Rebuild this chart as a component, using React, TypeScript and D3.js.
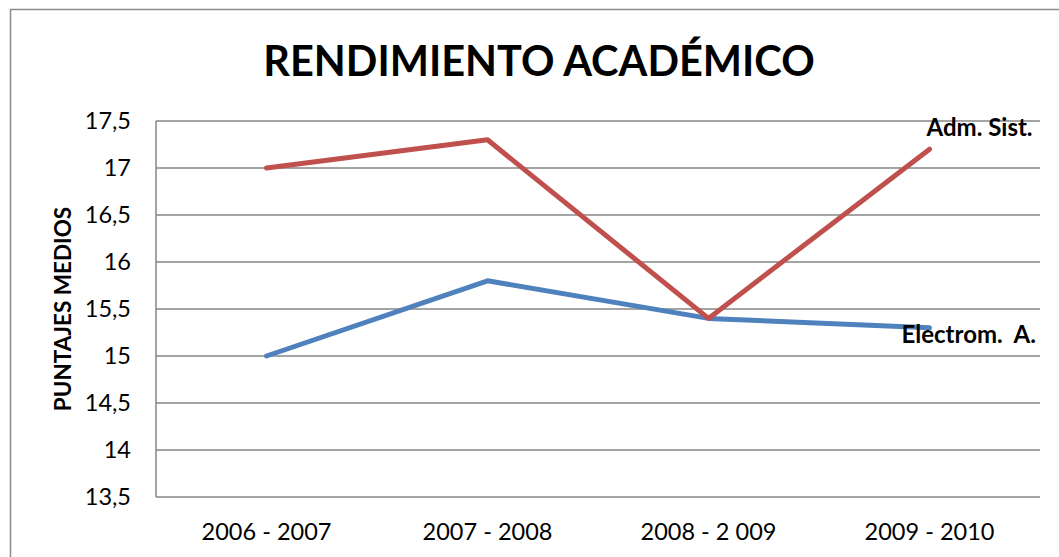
import * as React from 'react';
import * as d3 from 'd3';

const categories = ['2006 - 2007', '2007 - 2008', '2008 - 2 009', '2009 - 2010'];
const admSist = [17, 17.3, 15.4, 17.2];
const electrom = [15, 15.8, 15.4, 15.3];
const yTicks = [13.5, 14, 14.5, 15, 15.5, 16, 16.5, 17, 17.5];

const W = 1059;
const H = 557;
const plot = { left: 156, right: 1040, top: 121, bottom: 497 };
const font = 'Lato, "Open Sans", sans-serif';

const fmt = (v: number): string => String(v).replace('.', ',');

const App: React.FC = () => {
  const x = d3
    .scaleBand<string>()
    .domain(categories)
    .range([plot.left, plot.right]);
  const y = d3.scaleLinear().domain([13.5, 17.5]).range([plot.bottom, plot.top]);

  const line = d3
    .line<number>()
    .x((_, i) => (x(categories[i]) as number) + x.bandwidth() / 2)
    .y((d) => y(d));

  const lastX = (x(categories[3]) as number) + x.bandwidth() / 2;

  return (
    <svg
      width={W}
      height={H}
      style={{ position: 'absolute', left: 0, top: 0, background: '#fff' }}
    >
      {/* outer frame */}
      <rect x={10.5} y={9.5} width={W + 20} height={H + 20} fill="#fff" stroke="#8c8c8c" strokeWidth={1.5} />

      <text
        x={539}
        y={76}
        textAnchor="middle"
        fontFamily={font}
        fontWeight="bold"
        fontSize={41.5}
        fill="#000"
      >
        RENDIMIENTO ACADÉMICO
      </text>

      {/* gridlines */}
      {yTicks.map((t) => (
        <line
          key={t}
          x1={plot.left}
          x2={plot.right}
          y1={y(t)}
          y2={y(t)}
          stroke="#868686"
          strokeWidth={1.5}
        />
      ))}
      <line x1={plot.left} x2={plot.left} y1={plot.top} y2={plot.bottom} stroke="#868686" strokeWidth={1.5} />

      {yTicks.map((t) => (
        <text
          key={t}
          x={131}
          y={y(t)}
          dy="0.36em"
          textAnchor="end"
          fontFamily={font}
          fontSize={23.5}
          fill="#000"
        >
          {fmt(t)}
        </text>
      ))}

      {categories.map((c) => (
        <text
          key={c}
          x={(x(c) as number) + x.bandwidth() / 2}
          y={540}
          textAnchor="middle"
          fontFamily={font}
          fontSize={23.5}
          fill="#000"
        >
          {c}
        </text>
      ))}

      <text
        transform={`translate(71, ${(plot.top + plot.bottom) / 2}) rotate(-90)`}
        textAnchor="middle"
        fontFamily={font}
        fontWeight="bold"
        fontSize={22.5}
        fill="#000"
      >
        PUNTAJES MEDIOS
      </text>

      <path d={line(electrom) || ''} fill="none" stroke="#4F81BD" strokeWidth={5} strokeLinecap="round" strokeLinejoin="round" />
      <path d={line(admSist) || ''} fill="none" stroke="#C0504D" strokeWidth={5} strokeLinecap="round" strokeLinejoin="round" />

      <text
        x={lastX - 3}
        y={y(admSist[3]) - 13}
        fontFamily={font}
        fontWeight="bold"
        fontSize={24}
        fill="#000"
      >
        Adm. Sist.
      </text>
      <text
        x={lastX - 28}
        y={y(electrom[3]) + 15}
        fontFamily={font}
        fontWeight="bold"
        fontSize={24}
        fill="#000"
        style={{ whiteSpace: 'pre' }}
      >
        {'Electrom.  A.'}
      </text>
    </svg>
  );
};

export default App;
